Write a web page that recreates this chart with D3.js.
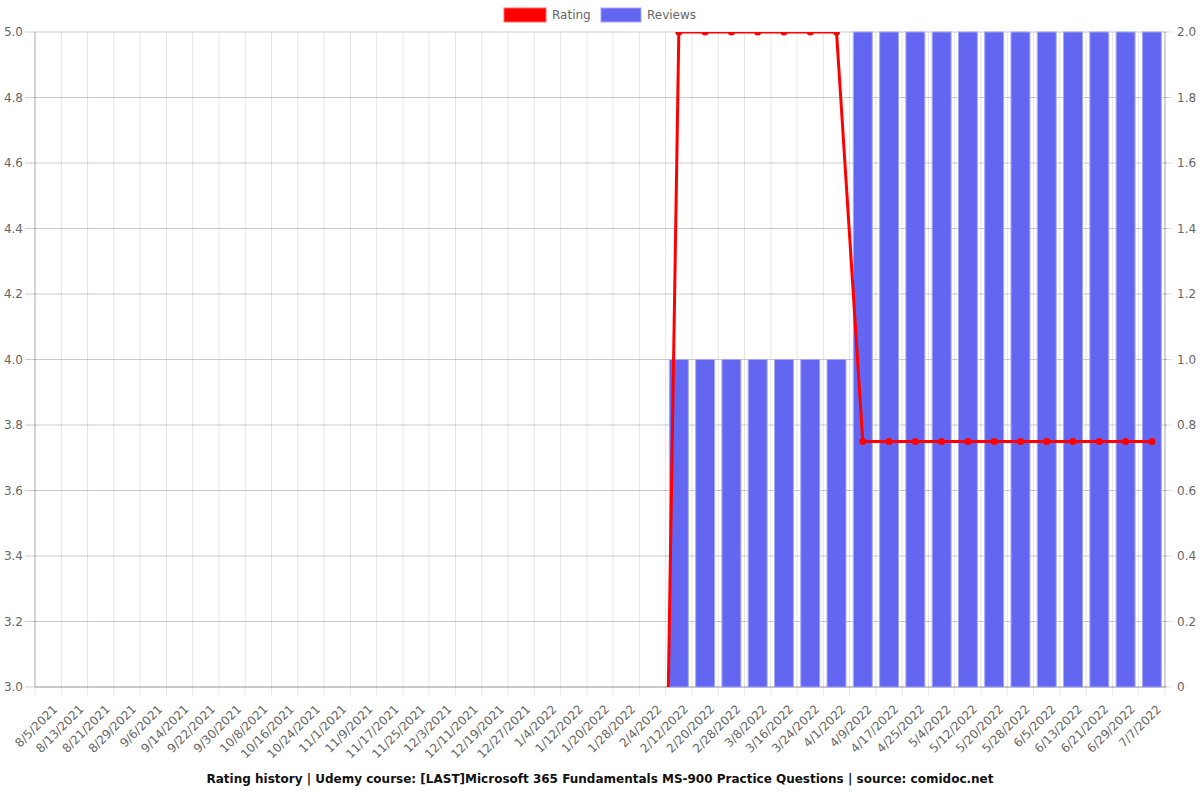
<!DOCTYPE html>
<html><head><meta charset="utf-8">
<script src="https://cdn.jsdelivr.net/npm/d3@7"></script>
<style>body{margin:0;background:#fff}svg{display:block}text{font-family:"DejaVu Sans",sans-serif}</style>
</head><body><svg id="c" width="1200" height="800"></svg>
<script>
const categories = ["8/5/2021","8/13/2021","8/21/2021","8/29/2021","9/6/2021","9/14/2021","9/22/2021","9/30/2021","10/8/2021","10/16/2021","10/24/2021","11/1/2021","11/9/2021","11/17/2021","11/25/2021","12/3/2021","12/11/2021","12/19/2021","12/27/2021","1/4/2022","1/12/2022","1/20/2022","1/28/2022","2/4/2022","2/12/2022","2/20/2022","2/28/2022","3/8/2022","3/16/2022","3/24/2022","4/1/2022","4/9/2022","4/17/2022","4/25/2022","5/4/2022","5/12/2022","5/20/2022","5/28/2022","6/5/2022","6/13/2022","6/21/2022","6/29/2022","7/7/2022"];
const rating = [null,null,null,null,null,null,null,null,null,null,null,null,null,null,null,null,null,null,null,null,null,null,null,0,5,5,5,5,5,5,5,3.75,3.75,3.75,3.75,3.75,3.75,3.75,3.75,3.75,3.75,3.75,3.75];
const reviews = [0,0,0,0,0,0,0,0,0,0,0,0,0,0,0,0,0,0,0,0,0,0,0,0,1,1,1,1,1,1,1,2,2,2,2,2,2,2,2,2,2,2,2];
const leftTicks = [3.0,3.2,3.4,3.6,3.8,4.0,4.2,4.4,4.6,4.8,5.0];
const rightTicks = [0,0.2,0.4,0.6,0.8,1.0,1.2,1.4,1.6,1.8,2.0];
const title = "Rating history | Udemy course: [LAST]Microsoft 365 Fundamentals MS-900 Practice Questions | source: comidoc.net";

const L=35,R=1165,T=32,B=687;
const svg=d3.select("#c");
const x=d3.scaleBand().domain(categories).range([L,R]).paddingInner(0).paddingOuter(0);
const yL=d3.scaleLinear().domain([3,5]).range([B,T]);
const yR=d3.scaleLinear().domain([0,2]).range([B,T]);
const grid="rgba(0,0,0,0.1)";
// vertical grid at boundaries
const bounds=categories.map(c=>x(c)).concat([R]);
svg.append("g").selectAll("line").data(bounds).join("line")
  .attr("x1",d=>d).attr("x2",d=>d).attr("y1",T).attr("y2",B+8).attr("stroke",grid);
// horizontal grid
svg.append("g").selectAll("line").data(leftTicks).join("line")
  .attr("x1",L-10).attr("x2",R+2).attr("y1",d=>yL(d)).attr("y2",d=>yL(d)).attr("stroke","rgba(0,0,0,0.2)");
// right axis tick marks
svg.append("g").selectAll("line").data(rightTicks).join("line")
  .attr("x1",R).attr("x2",R+8).attr("y1",d=>yR(d)).attr("y2",d=>yR(d)).attr("stroke",grid);
// axes borders
svg.append("line").attr("x1",L).attr("x2",L).attr("y1",T).attr("y2",B).attr("stroke","rgba(0,0,0,0.25)");
svg.append("line").attr("x1",R).attr("x2",R).attr("y1",T).attr("y2",B).attr("stroke","rgba(0,0,0,0.25)");
svg.append("line").attr("x1",L).attr("x2",R).attr("y1",B).attr("y2",B).attr("stroke","rgba(0,0,0,0.25)");
// left ticks labels
svg.append("g").selectAll("text").data(leftTicks).join("text")
  .attr("x",L-12).attr("y",d=>yL(d)).attr("dy","0.35em").attr("text-anchor","end")
  .attr("font-size",12).attr("fill","#666").text(d=>d.toFixed(1));
svg.append("g").selectAll("text").data(rightTicks).join("text")
  .attr("x",R+12).attr("y",d=>yR(d)).attr("dy","0.35em").attr("text-anchor","start")
  .attr("font-size",12).attr("fill","#666").text(d=>d===0?"0":d.toFixed(1));
// x labels
svg.append("g").selectAll("text").data(categories).join("text")
  .attr("transform",d=>`translate(${x(d)+x.bandwidth()/2+7},${B+20}) rotate(-45)`)
  .attr("text-anchor","end").attr("dy","0.35em")
  .attr("font-size",12).attr("fill","#666").text(d=>d);
// bars
const bw=x.bandwidth()*0.72;
svg.append("g").selectAll("rect").data(categories.map((c,i)=>({c,v:reviews[i]})).filter(d=>d.v>0)).join("rect")
  .attr("x",d=>x(d.c)+(x.bandwidth()-bw)/2).attr("width",bw)
  .attr("y",d=>yR(d.v)).attr("height",d=>yR(0)-yR(d.v))
  .attr("fill","#6366f1").attr("stroke","#a5a7f6").attr("stroke-width",1);
// line, clipped
svg.append("clipPath").attr("id","clip").append("rect").attr("x",L).attr("y",T).attr("width",R-L).attr("height",B-T);
const pts=categories.map((c,i)=>({c,v:rating[i]}));
const line=d3.line().defined(d=>d.v!==null).x(d=>x(d.c)+x.bandwidth()/2).y(d=>yL(d.v));
const lg=svg.append("g").attr("clip-path","url(#clip)");
lg.append("path").datum(pts).attr("d",line).attr("fill","none").attr("stroke","#ff0000").attr("stroke-width",3);
lg.selectAll("circle").data(pts.filter(d=>d.v!==null)).join("circle")
  .attr("cx",d=>x(d.c)+x.bandwidth()/2).attr("cy",d=>yL(d.v)).attr("r",3.5).attr("fill","#ff0000");
// legend
const leg=svg.append("g");
leg.append("rect").attr("x",504).attr("y",8).attr("width",42).attr("height",14).attr("fill","#ff0000").attr("stroke","#ff6666");
leg.append("text").attr("x",552).attr("y",15).attr("dy","0.35em").attr("font-size",12).attr("fill","#666").text("Rating");
leg.append("rect").attr("x",601).attr("y",8).attr("width",40).attr("height",14).attr("fill","#6366f1").attr("stroke","#a5a7f6");
leg.append("text").attr("x",647).attr("y",15).attr("dy","0.35em").attr("font-size",12).attr("fill","#666").text("Reviews");
// title
svg.append("text").attr("x",600).attr("y",783).attr("text-anchor","middle").attr("font-size",12).attr("font-weight","bold").attr("fill","#111").text(title);
</script></body></html>
